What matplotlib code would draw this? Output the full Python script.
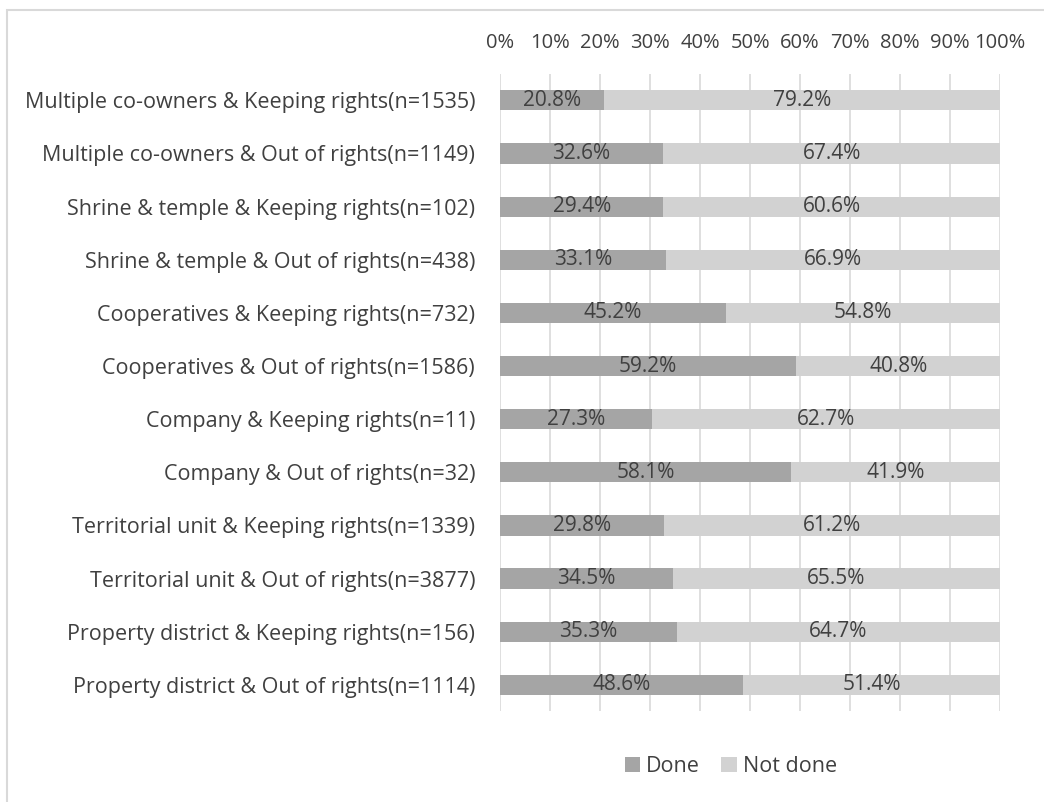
import numpy as np
import matplotlib.pyplot as plt
from matplotlib.ticker import PercentFormatter

plt.rcParams['font.family'] = ['Open Sans', 'DejaVu Sans']

categories = [
    'Multiple co-owners & Keeping rights(n=1535)',
    'Multiple co-owners & Out of rights(n=1149)',
    'Shrine & temple & Keeping rights(n=102)',
    'Shrine & temple & Out of rights(n=438)',
    'Cooperatives & Keeping rights(n=732)',
    'Cooperatives & Out of rights(n=1586)',
    'Company & Keeping rights(n=11)',
    'Company & Out of rights(n=32)',
    'Territorial unit & Keeping rights(n=1339)',
    'Territorial unit & Out of rights(n=3877)',
    'Property district & Keeping rights(n=156)',
    'Property district & Out of rights(n=1114)',
]
done = [20.8, 32.6, 29.4, 33.1, 45.2, 59.2, 27.3, 58.1, 29.8, 34.5, 35.3, 48.6]
not_done = [79.2, 67.4, 60.6, 66.9, 54.8, 40.8, 62.7, 41.9, 61.2, 65.5, 64.7, 51.4]

text_col = '#404040'
c_done = '#a5a5a5'
c_not = '#d2d2d2'

# 100% stacked: each row is scaled to its own total
done = np.array(done)
not_done = np.array(not_done)
total = done + not_done
done_w = done / total * 100
not_w = not_done / total * 100

fig = plt.figure(figsize=(10.44, 8.02), dpi=100)
ax = fig.add_axes([0.479, 0.113, 0.479, 0.795])

y = np.arange(len(categories))
b1 = ax.barh(y, done_w, height=0.38, color=c_done, label='Done', zorder=2)
b2 = ax.barh(y, not_w, left=done_w, height=0.38, color=c_not, label='Not done', zorder=2)

for i in range(len(categories)):
    ax.text(done_w[i] / 2, y[i], f'{done[i]:.1f}%', ha='center', va='center',
            fontsize=15, color=text_col, zorder=3)
    ax.text(done_w[i] + not_w[i] / 2, y[i], f'{not_done[i]:.1f}%', ha='center',
            va='center', fontsize=15, color=text_col, zorder=3)

ax.set_xlim(0, 100)
ax.set_ylim(len(categories) - 0.5, -0.5)
ax.set_xticks(np.arange(0, 101, 10))
ax.xaxis.set_major_formatter(PercentFormatter(decimals=0))
ax.xaxis.tick_top()
ax.tick_params(axis='x', length=0, pad=15, labelsize=14.5, labelcolor=text_col)
ax.set_yticks(y)
ax.set_yticklabels(categories)
ax.tick_params(axis='y', length=0, pad=18, labelsize=15.5, labelcolor=text_col)
ax.grid(axis='x', color='#d9d9d9', linewidth=1.2, zorder=0)
for s in ax.spines.values():
    s.set_visible(False)

leg = fig.legend(handles=[b1, b2], loc='center', bbox_to_anchor=(0.7, 0.044), ncol=2,
                 frameon=False, fontsize=15.5, handlelength=0.7, handleheight=0.7,
                 handletextpad=0.3, columnspacing=1.0)
for t in leg.get_texts():
    t.set_color(text_col)

# light frame around the whole chart
fig.patches.append(plt.Rectangle((0.0067, -0.01), 1.1, 0.9975, transform=fig.transFigure,
                                 fill=False, edgecolor='#d9d9d9', linewidth=1.5))

fig.savefig('out.png', dpi=100)
